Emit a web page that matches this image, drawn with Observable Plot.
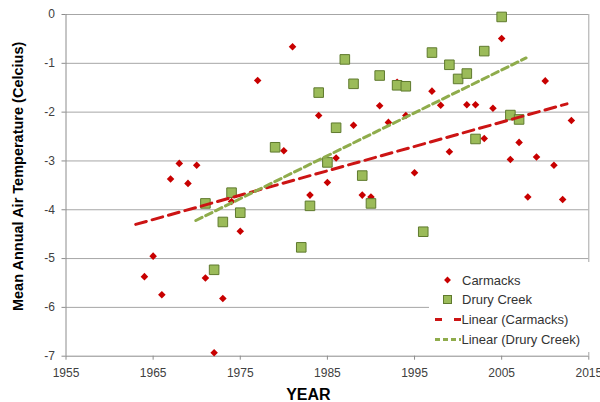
<!DOCTYPE html>
<html>
<head>
<meta charset="utf-8">
<script src="https://cdn.jsdelivr.net/npm/d3@7"></script>
<script src="https://cdn.jsdelivr.net/npm/@observablehq/plot@0.6"></script>
<style>
  html, body { margin: 0; padding: 0; background: #fff; }
  #wrap { position: relative; width: 600px; height: 402px; font-family: "Liberation Sans", Arial, sans-serif; }
  #legend { position: absolute; left: 429px; top: 262px; width: 161px; height: 90px; background: #fff; }
</style>
</head>
<body>
<div id="wrap"><div id="chart"></div><div id="legend"></div></div>
<script>
// Carmacks
const carmacksYear = [1964,1965,1966,1967,1968,1969,1970,1971,1972,1973,1974,1975,1977,1980,1981,1983,1984,1985,1986,1988,1989,1990,1991,1992,1993,1994,1995,1997,1998,1999,2001,2002,2003,2004,2005,2006,2007,2008,2009,2010,2011,2012,2013];
const carmacksTemp = [-5.37,-4.95,-5.74,-3.37,-3.05,-3.46,-3.09,-5.40,-6.93,-5.82,-3.83,-4.44,-1.35,-2.79,-0.66,-3.70,-2.07,-3.44,-2.94,-2.27,-3.70,-3.74,-1.87,-2.21,-1.39,-2.07,-3.24,-1.57,-1.86,-2.81,-1.85,-1.85,-2.54,-1.92,-0.49,-2.97,-2.62,-3.74,-2.92,-1.36,-3.09,-3.79,-2.17];
// Drury Creek
const druryYear = [1971,1972,1973,1974,1975,1979,1982,1983,1984,1985,1986,1987,1988,1989,1990,1991,1993,1994,1996,1997,1999,2000,2001,2002,2003,2005,2006,2007];
const druryTemp = [-3.87,-5.23,-4.25,-3.65,-4.06,-2.72,-4.77,-3.92,-1.60,-3.03,-2.32,-0.92,-1.42,-3.30,-3.87,-1.25,-1.45,-1.47,-4.45,-0.78,-1.03,-1.32,-1.21,-2.55,-0.75,-0.05,-2.06,-2.15];
// Linear trend lines
const trendCarmacksYear = [1963, 2012.5];
const trendCarmacksTemp = [-4.30, -1.83];
const trendDruryYear = [1969.9, 2007.8];
const trendDruryTemp = [-4.22, -0.89];
// Axes
const xTicks = [1955, 1965, 1975, 1985, 1995, 2005, 2015];
const yTicks = [-7, -6, -5, -4, -3, -2, -1, 0];
const xLabel = "YEAR";
const yLabel = "Mean Annual Air Temperature (Celcius)";
const seriesNames = ["Carmacks", "Drury Creek", "Linear (Carmacks)", "Linear (Drury Creek)"];

const RED = "#c80000", RED_TREND = "#cc1414";
const GREEN = "#9bbb59", GREEN_STROKE = "#5f7a2e", GREEN_TREND = "#8fac4c";

const carmacks = carmacksYear.map((y, i) => ({year: y, temp: carmacksTemp[i]}));
const drury = druryYear.map((y, i) => ({year: y, temp: druryTemp[i]}));
const trendC = trendCarmacksYear.map((y, i) => ({year: y, temp: trendCarmacksTemp[i]}));
const trendD = trendDruryYear.map((y, i) => ({year: y, temp: trendDruryTemp[i]}));

const chart = Plot.plot({
  width: 600,
  height: 402,
  marginLeft: 65.5,
  marginRight: 11.7,
  marginTop: 14,
  marginBottom: 46.3,
  x: {domain: [1955, 2015]},
  y: {domain: [-7, 0]},
  style: {fontFamily: "'Liberation Sans', Arial, sans-serif", fontSize: "12px", background: "#fff", color: "#333"},
  marks: [
    Plot.gridY(yTicks.filter(d => d > -7), {stroke: "#a6a6a6", strokeOpacity: 1}),
    Plot.ruleX([xTicks[0]], {stroke: "#8c8c8c"}),
    Plot.ruleX([xTicks[xTicks.length - 1]], {stroke: "#a6a6a6"}),
    Plot.ruleY([yTicks[0]], {stroke: "#8c8c8c"}),
    Plot.axisY(yTicks, {tickSize: 4, tickPadding: 7, tickFormat: d => String(d), label: null, stroke: "#8c8c8c", fill: "#404040"}),
    Plot.axisX(xTicks, {tickSize: 4, tickPadding: 8, tickFormat: d => String(d), label: null, stroke: "#8c8c8c", fill: "#404040"}),
    Plot.dot(carmacks, {x: "year", y: "temp", symbol: "diamond2", r: 3.4, fill: RED, stroke: "none"}),
    Plot.dot(drury, {x: "year", y: "temp", symbol: "square", r: 5.4, fill: GREEN, stroke: GREEN_STROKE, strokeWidth: 1}),
    Plot.line(trendC, {x: "year", y: "temp", stroke: RED_TREND, strokeWidth: 3, strokeDasharray: "11,6"}),
    Plot.line(trendD, {x: "year", y: "temp", stroke: GREEN_TREND, strokeWidth: 3, strokeDasharray: "7,4"}),
    Plot.text([yLabel], {frameAnchor: "left", textAnchor: "middle", lineAnchor: "middle", dx: -48, dy: -9, rotate: -90, fontWeight: "bold", fontSize: 14.5, fill: "#000"}),
    Plot.text([xLabel], {frameAnchor: "bottom", textAnchor: "middle", lineAnchor: "bottom", dx: -19, dy: 44, fontWeight: "bold", fontSize: 16, fill: "#000"})
  ]
});
document.getElementById("chart").appendChild(chart);

// Legend
const lg = d3.select("#legend").append("svg").attr("width", 161).attr("height", 90)
  .style("font-family", "'Liberation Sans', Arial, sans-serif").style("font-size", "13px");
const rowY = [18, 37.5, 57.5, 77.5];
const symX = 18.5;
lg.append("path").attr("d", d3.symbol(d3.symbolDiamond2, 30)()).attr("transform", `translate(${symX},${rowY[0]})`).attr("fill", RED);
lg.append("rect").attr("x", symX - 4).attr("y", rowY[1] - 4).attr("width", 8).attr("height", 8).attr("fill", GREEN).attr("stroke", GREEN_STROKE);
lg.append("line").attr("x1", 6).attr("x2", 32).attr("y1", rowY[2]).attr("y2", rowY[2]).attr("stroke", RED_TREND).attr("stroke-width", 3).attr("stroke-dasharray", "7,12");
lg.append("line").attr("x1", 6).attr("x2", 32).attr("y1", rowY[3]).attr("y2", rowY[3]).attr("stroke", GREEN_TREND).attr("stroke-width", 3).attr("stroke-dasharray", "5,3");
seriesNames.forEach((name, i) => {
  lg.append("text").attr("x", i < 2 ? 33 : 32.5).attr("y", rowY[i]).attr("dy", "0.35em").attr("fill", "#333").text(name);
});
</script>
</body>
</html>
